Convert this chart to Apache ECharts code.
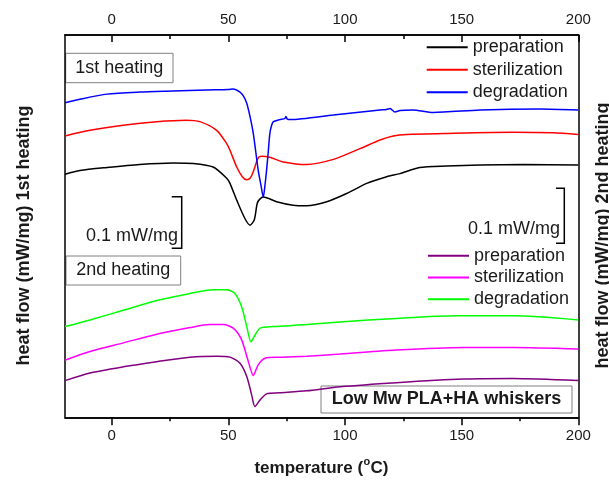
<!DOCTYPE html>
<html>
<head>
<meta charset="utf-8">
<script src="https://cdn.jsdelivr.net/npm/echarts@6/dist/echarts.min.js"></script>
<style>html,body{margin:0;padding:0;background:#fff}#c{width:609px;height:481px}</style>
</head>
<body>
<div id="c"></div>
<script>
// temperature (°C) and heat flow (mW/mg, vertically offset curves)
var prep1T = [-20,-13.6,-2,12,26.4,35,43.5,49.3,50.7,53.6,57.1,59.3,61.1,62.4,63.5,65,70.7,77.8,83.6,92.2,100.7,109.3,117.9,123.6,132,143.6,157.9,176.4,200];
var prep1V = [0.477,0.484,0.490,0.496,0.499,0.498,0.491,0.469,0.459,0.426,0.390,0.377,0.387,0.420,0.428,0.432,0.423,0.416,0.415,0.423,0.439,0.459,0.472,0.478,0.490,0.493,0.495,0.496,0.495];
var ster1T = [-20,-9.3,4.9,19.3,32,37.8,45,49.3,50.7,53.6,56,57.9,59.5,60.7,62.8,64.3,67.8,73.5,83.6,95,106.4,115,120.7,126.4,143.6,172,189.3,200];
var ster1V = [0.552,0.563,0.573,0.580,0.583,0.580,0.563,0.537,0.524,0.491,0.472,0.466,0.470,0.482,0.509,0.512,0.510,0.501,0.496,0.506,0.527,0.544,0.552,0.555,0.557,0.559,0.558,0.555];
var deg1T = [-20,-13.6,-2,12,26,40.7,50,52,55,56.5,57.9,59.3,60.7,62.8,64,65,65.7,66.4,67.1,67.8,68.5,69.3,72,74.2,74.7,75.3,76.4,95,115,117.8,119.3,121.4,123.6,129,137.8,157.9,183.6,200];
var deg1V = [0.617,0.624,0.634,0.638,0.640,0.642,0.643,0.644,0.638,0.630,0.616,0.590,0.557,0.485,0.455,0.432,0.455,0.485,0.520,0.557,0.572,0.580,0.584,0.586,0.590,0.585,0.584,0.593,0.603,0.604,0.606,0.599,0.602,0.603,0.598,0.603,0.605,0.603];
var prep2T = [-20,-9.3,5,19.3,33.6,45,50.7,55,57.9,60,61.4,63.6,66.4,72,83.6,97.9,122,150.7,172,200];
var prep2V = [0.072,0.087,0.099,0.109,0.118,0.120,0.118,0.106,0.080,0.044,0.021,0.034,0.046,0.048,0.052,0.060,0.068,0.075,0.076,0.072];
var ster2T = [-20,-9.3,5,19.3,33.6,42,47.8,52.1,55.7,58.6,60.7,62.8,65.7,72,83.6,97.9,122,150.7,172,200];
var ster2V = [0.112,0.129,0.146,0.163,0.176,0.182,0.182,0.175,0.152,0.109,0.082,0.103,0.116,0.118,0.120,0.124,0.132,0.137,0.137,0.134];
var deg2T = [-20,-9.3,5,19.3,33.6,43.5,49.3,52.8,55.7,57.9,59.7,61.4,63.6,69.3,83.6,97.9,122,147.9,172,200];
var deg2V = [0.178,0.191,0.210,0.229,0.243,0.250,0.250,0.243,0.217,0.178,0.148,0.161,0.175,0.178,0.182,0.187,0.194,0.199,0.199,0.191];

var majorTicks = [0,50,100,150,200];
var minorTicks = [25,75,125,175];
var legendNames = ['preparation','sterilization','degradation'];

function zip(t, v){ return t.map(function(x,i){ return [x, v[i]]; }); }

var FONT = 'Liberation Sans, Arial, sans-serif';
var TXT = '#1a1a1a';

function mkX(pos, ticks, len, inside, showLabel){
  return {
    type:'value', position:pos, min:-20, max:200,
    axisLine:{show:true, onZero:false, lineStyle:{color:'#000', width:1.5}},
    axisTick:{show:true, inside:inside, length:len, customValues:ticks, lineStyle:{color:'#000', width:1.5}},
    axisLabel:{show:showLabel, customValues:ticks, fontSize:15, color:TXT, fontFamily:FONT, margin: pos==='top'?8:11},
    splitLine:{show:false}
  };
}
function mkY(pos){
  return {type:'value', position:pos, min:0, max:0.75,
    axisLine:{show:true, onZero:false, lineStyle:{color:'#000', width:1.5}},
    axisTick:{show:false}, axisLabel:{show:false}, splitLine:{show:false}};
}

var series = [];
function addSeries(name, t, v, color){
  series.push({
    name:name, type:'line', data:zip(t,v), showSymbol:false, symbol:'none',
    smooth:0.25, lineStyle:{color:color, width:1.5}, itemStyle:{color:color},
    xAxisIndex:0, yAxisIndex:0, animation:false
  });
}
addSeries('preparation', prep1T, prep1V, '#000000');
addSeries('sterilization', ster1T, ster1V, '#ff0000');
addSeries('degradation', deg1T, deg1V, '#0000ff');
addSeries('preparation ', prep2T, prep2V, '#800080');
addSeries('sterilization ', ster2T, ster2V, '#ff00ff');
addSeries('degradation ', deg2T, deg2V, '#00ff00');

var chart = echarts.init(document.getElementById('c'), null, {renderer:'canvas'});
chart.setOption({
  animation:false,
  backgroundColor:'#fff',
  grid:{left:65, right:30.7, top:35, bottom:63.7, containLabel:false},
  xAxis:[
    mkX('bottom', majorTicks, 8, false, true),
    mkX('bottom', minorTicks, 4, false, false),
    mkX('top', majorTicks, 7, true, true),
    mkX('top', minorTicks, 4, true, false)
  ],
  yAxis:[ mkY('left'), mkY('right') ],
  legend:[
    {data:legendNames, orient:'vertical', left:426.7, top:38.3, padding:0, itemGap:4.5, itemWidth:41, itemHeight:2, icon:'rect',
     textStyle:{fontSize:18, color:TXT, fontFamily:FONT}, selectedMode:false},
    {data:legendNames.map(function(n){return n+' ';}), orient:'vertical', left:428, top:246.7, padding:0, itemGap:3.8, itemWidth:41, itemHeight:2, icon:'rect',
     textStyle:{fontSize:18, color:TXT, fontFamily:FONT}, selectedMode:false}
  ],
  series:series,
  graphic:[
    {type:'rect', shape:{x:65.7, y:53.3, width:107.3, height:29.4}, style:{fill:'#fff', stroke:'#808080', lineWidth:1}},
    {type:'text', x:119.3, y:68, style:{text:'1st heating', font:'18px '+FONT, fill:TXT, textAlign:'center', textVerticalAlign:'middle'}},
    {type:'rect', shape:{x:66, y:256, width:114.7, height:29}, style:{fill:'#fff', stroke:'#808080', lineWidth:1}},
    {type:'text', x:123.3, y:270.5, style:{text:'2nd heating', font:'18px '+FONT, fill:TXT, textAlign:'center', textVerticalAlign:'middle'}},
    {type:'rect', shape:{x:321, y:386, width:251, height:27}, style:{fill:'#fff', stroke:'#808080', lineWidth:1}},
    {type:'text', x:446.5, y:399.5, style:{text:'Low Mw PLA+HA whiskers', font:'bold 18px '+FONT, fill:TXT, textAlign:'center', textVerticalAlign:'middle'}},
    {type:'polyline', shape:{points:[[171.7,196.7],[181.7,196.7],[181.7,248.3],[171.7,248.3]]}, style:{stroke:'#000', lineWidth:1.5, fill:null}},
    {type:'text', x:178, y:236, style:{text:'0.1 mW/mg', font:'18px '+FONT, fill:TXT, textAlign:'right', textVerticalAlign:'middle'}},
    {type:'polyline', shape:{points:[[556,188.3],[564.3,188.3],[564.3,243.3],[556,243.3]]}, style:{stroke:'#000', lineWidth:1.5, fill:null}},
    {type:'text', x:560, y:229.5, style:{text:'0.1 mW/mg', font:'18px '+FONT, fill:TXT, textAlign:'right', textVerticalAlign:'middle'}},
    {type:'text', x:24, y:235.5, rotation:Math.PI/2, style:{text:'heat flow (mW/mg) 1st heating', font:'bold 18px '+FONT, fill:TXT, textAlign:'center', textVerticalAlign:'middle'}},
    {type:'text', x:603, y:235.5, rotation:Math.PI/2, style:{text:'heat flow (mW/mg) 2nd heating', font:'bold 18px '+FONT, fill:TXT, textAlign:'center', textVerticalAlign:'middle'}},
    {type:'text', x:254.4, y:468, style:{text:'temperature (', font:'bold 17px '+FONT, fill:TXT, textAlign:'left', textVerticalAlign:'middle'}},
    {type:'text', x:363.5, y:461.5, style:{text:'o', font:'bold 11px '+FONT, fill:TXT, textAlign:'left', textVerticalAlign:'middle'}},
    {type:'text', x:370.5, y:468, style:{text:'C)', font:'bold 17px '+FONT, fill:TXT, textAlign:'left', textVerticalAlign:'middle'}}
  ]
});
</script>
</body>
</html>
